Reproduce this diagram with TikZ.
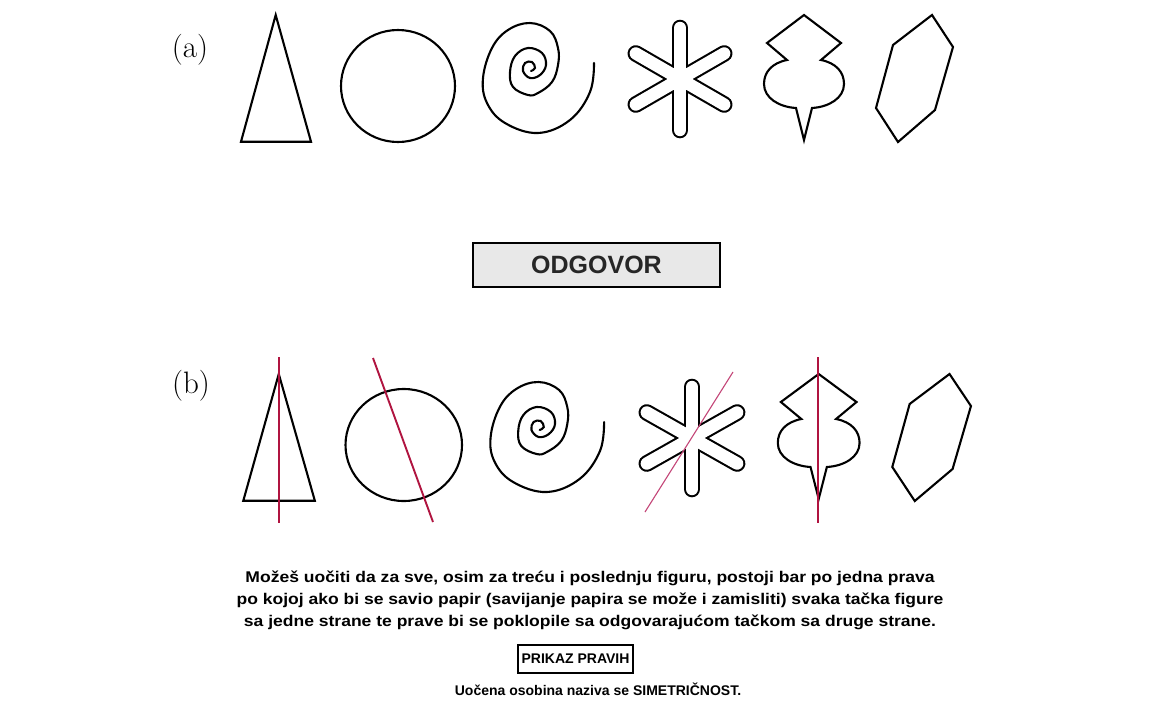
\documentclass[tikz,border=0pt]{standalone}
\usepackage{fontspec}
\newfontfamily\arialf{Liberation Sans}
\definecolor{axisred}{RGB}{176,20,64}
\definecolor{axispink}{RGB}{196,70,120}
\definecolor{boxgray}{RGB}{232,232,232}
\tikzset{
  fig/.style={line width=2.1pt, draw=black},
  axisline/.style={line width=1.9pt, draw=axisred},
  axisthin/.style={line width=1.1pt, draw=axispink},
  btn/.style={draw=black, font=\arialf\bfseries},
  lbl/.style={font=\fontsize{31}{36}\selectfont, inner sep=0pt},
}
\newcommand\drawfigs{%
  % triangle
  \draw[fig] (275.7,15) -- (311,141.7) -- (241,141.7) -- cycle;
  % circle
  \draw[fig] (398,86) ellipse [x radius=57, y radius=56];
  % spiral
  \draw[fig, line cap=round] plot[smooth, tension=0.65] coordinates {
    (594,63) (590,92) (570,120) (538,133) (505,123) (487,103) (483,78)
    (492,48) (508,30) (530,23) (550,31) (558,48) (558,65) (552,82)
    (538,93) (528,95) (513,87) (510,72) (515,56) (528,48) (542,53)
    (546,65) (540,75) (530,78) (523,71) (525,63) (532,62) (535,68) (531,71)};
  % star
  \foreach \a in {30,90,150,210,270,330}
    \draw[line width=16.6pt, line cap=round, black] (680,79) -- ++(\a:51);
  \foreach \a in {30,90,150,210,270,330}
    \draw[line width=12.4pt, line cap=round, white] (680,79) -- ++(\a:51);
  % ornament
  \draw[fig] (804,15) -- (841,43) -- (821,60)
    .. controls (836,63) and (844,72) .. (844,84)
    .. controls (844,98) and (829,107) .. (812,108)
    -- (804,140) -- (796,108)
    .. controls (779,107) and (764,98) .. (764,84)
    .. controls (764,72) and (772,63) .. (787,60)
    -- (767,43) -- cycle;
  % hexagon
  \draw[fig] (932,15) -- (953,47) -- (935,110) -- (898,142) -- (876,108) -- (893,45) -- cycle;
}
\begin{document}
\begin{tikzpicture}[x=1pt, y=-1pt]
\useasboundingbox[fill=white] (0,0) rectangle (1151,707);

\node[lbl] (la) at (190,50) {(a)};
\node[lbl] (lb) at (191,386) {(b)};

\drawfigs
\begin{scope}[xshift=-3pt, yshift=-359pt, xscale=1.022]
  \drawfigs
\end{scope}

% symmetry axes
\coordinate (t1) at (279,357); \coordinate (t2) at (279,523);
\coordinate (c1) at (373,358); \coordinate (c2) at (433,522);
\coordinate (s1) at (733,372); \coordinate (s2) at (645,512);
\coordinate (o1) at (818,357); \coordinate (o2) at (818,523);
\draw[axisline] (t1) -- (t2);
\draw[axisline] (c1) -- (c2);
\draw[axisthin] (s1) -- (s2);
\draw[axisline] (o1) -- (o2);

\node[btn, fill=boxgray, line width=1.8pt, minimum width=247pt, minimum height=44pt,
      font=\arialf\bfseries\fontsize{25}{30}\selectfont, text=black!85] (odg) at (596.5,265) {ODGOVOR};

\node[inner sep=0pt] (para) at (590,600)
 {\scalebox{1.13}[1]{\arialf\bfseries\fontsize{15.5}{22}\selectfont
  \begin{tabular}{@{}c@{}}
  Možeš uočiti da za sve, osim za treću i poslednju figuru, postoji bar po jedna prava\\
  po kojoj ako bi se savio papir (savijanje papira se može i zamisliti) svaka tačka figure\\
  sa jedne strane te prave bi se poklopile sa odgovarajućom tačkom sa druge strane.
  \end{tabular}}};

\node[btn, line width=1.5pt, minimum width=115pt, minimum height=28pt,
      font=\arialf\bfseries\fontsize{14}{17}\selectfont] (pp) at (575.5,659) {PRIKAZ PRAVIH};

\node[font=\arialf\bfseries\fontsize{14}{17}\selectfont, inner sep=0pt] (uoc) at (598,689)
 {Uočena osobina naziva se SIMETRIČNOST.};
\end{tikzpicture}
\end{document}
